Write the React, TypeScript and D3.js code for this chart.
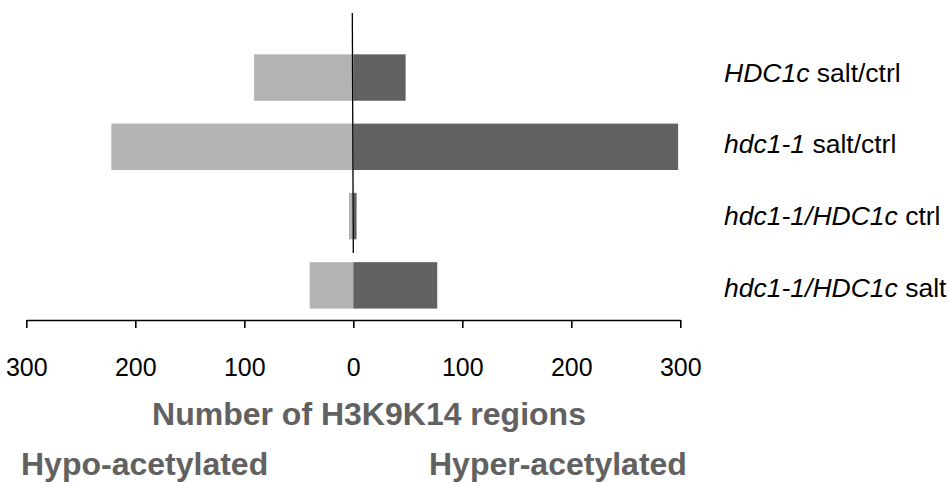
import React, { useEffect, useRef } from 'react';
import * as d3 from 'd3';

// row labels: italic genotype part + plain condition part
const genotypes = ['HDC1c', 'hdc1-1', 'hdc1-1/HDC1c', 'hdc1-1/HDC1c'];
const conditions = [' salt/ctrl', ' salt/ctrl', ' ctrl', ' salt'];
const hypoValues = [91, 222, 4, 40];
const hyperValues = [48, 298, 3, 77];
const tickValues = [-300, -200, -100, 0, 100, 200, 300];

const WIDTH = 948;
const HEIGHT = 483;
const FONT = '"Liberation Sans", Arial, sans-serif';

export default function App() {
  const svgRef = useRef<SVGSVGElement>(null);

  useEffect(() => {
    if (!svgRef.current) return;
    const svg = d3.select(svgRef.current);
    svg.selectAll('*').remove();

    const rows = genotypes.map((g, i) => ({
      key: String(i),
      genotype: g,
      condition: conditions[i],
      hypo: hypoValues[i],
      hyper: hyperValues[i]
    }));

    const x = d3.scaleLinear().domain([-300, 300]).range([26.3, 680.3]);
    const y = d3.scaleBand<string>()
      .domain(rows.map(r => r.key))
      .range([42.9, 320])
      .paddingInner(0.33)
      .paddingOuter(0.165);
    // labels sit on their own, slightly wider spacing
    const yLabel = d3.scalePoint<string>()
      .domain(rows.map(r => r.key))
      .range([81.5, 296.5]);

    // Hypo bars (left)
    svg.append('g')
      .selectAll('rect')
      .data(rows)
      .enter().append('rect')
      .attr('x', d => x(-d.hypo))
      .attr('y', d => y(d.key)!)
      .attr('width', d => x(0) - x(-d.hypo))
      .attr('height', y.bandwidth())
      .attr('fill', '#b3b3b3');

    // Hyper bars (right)
    svg.append('g')
      .selectAll('rect')
      .data(rows)
      .enter().append('rect')
      .attr('x', x(0))
      .attr('y', d => y(d.key)!)
      .attr('width', d => x(d.hyper) - x(0))
      .attr('height', y.bandwidth())
      .attr('fill', '#616161');

    // vertical zero line
    svg.append('line')
      .attr('x1', x(0) - 1)
      .attr('x2', x(0))
      .attr('y1', 13)
      .attr('y2', 253)
      .attr('stroke', '#000')
      .attr('stroke-width', 1.3);

    // x axis
    const axis = svg.append('g')
      .attr('transform', 'translate(0,320)')
      .call(
        d3.axisBottom(x)
          .tickValues(tickValues)
          .tickFormat(d => String(Math.abs(+d)))
          .tickSize(8)
          .tickSizeOuter(0)
      );
    axis.select('.domain').attr('stroke', '#000').attr('stroke-width', 1.6);
    axis.selectAll('.tick line').attr('stroke', '#000').attr('stroke-width', 1.6);
    axis.selectAll('.tick text')
      .attr('y', 0)
      .attr('dy', null)
      .attr('transform', 'translate(0,56)')
      .attr('fill', '#000')
      .attr('font-family', FONT)
      .attr('font-size', 25);

    // row labels
    const labels = svg.append('g')
      .selectAll('text')
      .data(rows)
      .enter().append('text')
      .attr('x', 724)
      .attr('y', d => yLabel(d.key)!)
      .attr('font-family', FONT)
      .attr('font-size', 26.5)
      .attr('fill', '#000');
    labels.append('tspan').attr('font-style', 'italic').text(d => d.genotype);
    labels.append('tspan').text(d => d.condition);

    // titles
    svg.append('text')
      .attr('x', 369)
      .attr('y', 425)
      .attr('text-anchor', 'middle')
      .attr('font-family', FONT)
      .attr('font-weight', 'bold')
      .attr('font-size', 32)
      .attr('fill', '#616161')
      .text('Number of H3K9K14 regions');

    svg.append('text')
      .attr('x', 21)
      .attr('y', 475)
      .attr('font-family', FONT)
      .attr('font-weight', 'bold')
      .attr('font-size', 32)
      .attr('fill', '#616161')
      .text('Hypo-acetylated');

    svg.append('text')
      .attr('x', 429)
      .attr('y', 475)
      .attr('font-family', FONT)
      .attr('font-weight', 'bold')
      .attr('font-size', 32)
      .attr('fill', '#616161')
      .text('Hyper-acetylated');
  }, []);

  return (
    <svg
      ref={svgRef}
      width={WIDTH}
      height={HEIGHT}
      style={{ position: 'absolute', left: 0, top: 0, background: '#fff' }}
    />
  );
}
